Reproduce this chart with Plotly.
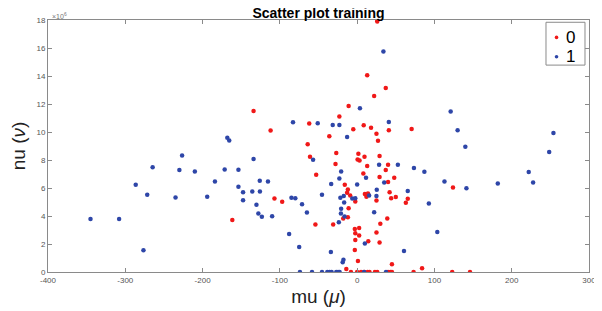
import plotly.graph_objects as go

# ---------------- data ----------------
NU_UNIT = 1e6  # y values below are in units of 10^6

mu_class0 = [26, 13, 37, 22, -134, -11, -23, -62, 8.5, 18, -5, -112, 41, 70.5, 25, -36, 27, -64,
             -27, 1.6, -61, 9.5, 29, 0.6, 3.1, -28, 13, 40, 37, -53, 8, 29, 48, 40, -16, 124,
             -12, -13, 10, 14, 42, -9, 12, 44, 50, 65.5, -107, -97, -2.4, 25, 63, -11, -18,
             -12, -161.5, 39, -54, -31, 30, -3, 2.6, -2.4, 2.6, 25, -2.4, 14.4, 29, -3, 1,
             45, -14, 84,
             -8, 0, 5, 9, 13.5, 16, 23, 26, 40, 43, 45, 73, 123, 146]
nu_class0 = [17.9, 14.05, 13.15, 12.58, 11.5, 11.85, 11.1, 10.6, 10.48, 10.31, 10.19, 10.1, 10.12,
             10.21, 9.88, 9.69, 9.38, 9.12, 8.5, 8.45, 8.23, 8.23, 8.28, 8.04, 7.97, 7.71, 7.57,
             7.66, 7.28, 6.95, 7.04, 6.78, 6.73, 6.42, 6.23, 6.04, 5.9, 5.66, 5.58, 5.61, 5.7,
             5.47, 5.37, 5.27, 5.35, 5.23, 5.25, 5.01, 5.04, 5.11, 4.94, 4.56, 3.82, 3.91, 3.72,
             3.82, 3.39, 3.39, 3.44, 3.08, 3.15, 2.77, 2.6, 2.82, 2.29, 2.2, 2.1, 1.58, 0.79,
             0.55, 0.21, 0.26,
             0, 0, 0, 0, 0, 0, 0, 0, 0, 0, 0, 0, 0, 0]

mu_class1 = [34, 121, 3.6, -83, -51, -31.6, -23, 41, 130, 254, -168, -165.5, -13, 140, 248.5,
             -226.5, -134, -57, -264.6, -171.4, -153.6, -230, -210, -20.7, 28.4, 52.7, 73.5,
             87, 222, 11.5, -126, -115.4, -184, -23, -33.6, 0, 35, 113, 227.7, 182, -286.5,
             -153.6, 141.4, 25.4, -271.6, -147.6, -135.7, -125.8, 65.5, -235, -194, -45.5,
             -85, -80, -21.7, -17.3, -6.3, -2.4, 15.5, 25, -147.6, -16.8, -130.3, -71.3, 92.8,
             -20.7, -127.8, -65, -21, 22, -123.3, -110, -16.3, -345, -308, -23.7, -88, 103.7,
             10, -276.5, -75, 60.6, -34, -17.7, -18.7,
             -74, -58.4, -45.5, -38.6, -35.6, -33, -27, -24.7, -22.7, 9, 37.3]
nu_class1 = [15.75, 11.46, 11.69, 10.69, 10.62, 10.5, 10.5, 10.72, 10.12, 9.93, 9.59, 9.4, 9.64,
             8.95, 8.57, 8.33, 8.07, 8.02, 7.49, 7.33, 7.3, 7.28, 7.18, 7.18, 7.66, 7.66, 7.42,
             7.16, 7.14, 6.73, 6.52, 6.47, 6.47, 6.68, 6.28, 6.25, 6.4, 6.47, 6.4, 6.32, 6.23,
             6.09, 5.99, 5.87, 5.51, 5.7, 5.75, 5.75, 5.78, 5.32, 5.37, 5.51, 5.3, 5.27, 5.3,
             5.42, 5.25, 5.27, 5.47, 5.42, 5.13, 4.96, 4.8, 4.84, 4.89, 4.51, 4.18, 4.25, 4.18,
             4.27, 3.94, 3.99, 3.96, 3.79, 3.79, 3.56, 2.72, 2.86, 2.03, 1.55, 1.79, 1.5, 1.43,
             0.88, 0.69,
             0, 0, 0, 0, 0, 0, 0, 0, 0, 0, 0]

x_ticks = [-400, -300, -200, -100, 0, 100, 200, 300]
y_ticks = [0, 2, 4, 6, 8, 10, 12, 14, 16, 18]

series_names = ["0", "1"]
series_colors = ["#f01818", "#2e46a8"]

# ---------------- figure ----------------
fig = go.Figure()
for name, xs, ys, col in [
    (series_names[0], mu_class0, nu_class0, series_colors[0]),
    (series_names[1], mu_class1, nu_class1, series_colors[1]),
]:
    fig.add_trace(go.Scatter(
        x=xs, y=[v * NU_UNIT for v in ys], mode="markers", name=name,
        marker=dict(size=4.5, color=col, line=dict(width=0)),
    ))

axis_common = dict(
    showgrid=False, zeroline=False, showline=True, linecolor="#8a8a8a", linewidth=1,
    mirror="ticks", ticks="inside", ticklen=4, tickcolor="#8a8a8a", automargin=False,
    tickfont=dict(family="Liberation Sans, Arial", size=8, color="#555555"),
)

# the page body adds an 8px offset, so the figure is sized to fit the 602x311 window
fig.update_layout(
    width=594, height=303,
    margin=dict(l=40, r=13, t=12, b=39),
    paper_bgcolor="white", plot_bgcolor="white",
    title=dict(text="<b>Scatter plot training</b>", x=0.5, xanchor="center",
               xref="paper", yref="paper", y=1.0, yanchor="bottom", pad=dict(b=2, t=0),
               automargin=False,
               font=dict(family="Liberation Sans, Arial", size=14, color="black")),
    xaxis=dict(range=[-400, 300], tickvals=x_ticks, ticktext=[str(v) for v in x_ticks],
               title=dict(text="mu (<i>μ</i>)", standoff=6,
                          font=dict(family="Liberation Sans, Arial", size=19, color="#222222")),
               **axis_common),
    yaxis=dict(range=[0, 18 * NU_UNIT], tickvals=[v * NU_UNIT for v in y_ticks],
               ticktext=[str(v) for v in y_ticks],
               title=dict(text="nu (<i>ν</i>)", standoff=8,
                          font=dict(family="Liberation Sans, Arial", size=19, color="#222222")),
               **axis_common),
    showlegend=False,
)

# compact MATLAB-style legend box (paper coordinates)
fig.add_shape(type="rect", xref="paper", yref="paper", x0=0.9205, x1=0.9926, y0=0.821, y1=0.991,
              line=dict(color="#8a8a8a", width=1), fillcolor="white", layer="above")
legend_rows_y = [0.931, 0.854]
for name, col, yy in zip(series_names, series_colors, legend_rows_y):
    fig.add_shape(type="circle", xref="paper", yref="paper", xsizemode="pixel", ysizemode="pixel",
                  xanchor=0.940, yanchor=yy, x0=-1.8, x1=1.8, y0=-1.8, y1=1.8,
                  fillcolor=col, line=dict(width=0), layer="above")
    fig.add_annotation(text=name, xref="paper", yref="paper", x=0.966, y=yy,
                       xanchor="center", yanchor="middle", showarrow=False,
                       font=dict(family="Liberation Sans, Arial", size=17, color="black"))

fig.add_annotation(text="×10<sup>6</sup>", xref="paper", yref="paper", x=0.0, y=1.0,
                   xanchor="left", yanchor="bottom", showarrow=False, xshift=2, yshift=-2,
                   font=dict(family="Liberation Sans, Arial", size=7, color="#777777"))

fig.write_html("out.html")
